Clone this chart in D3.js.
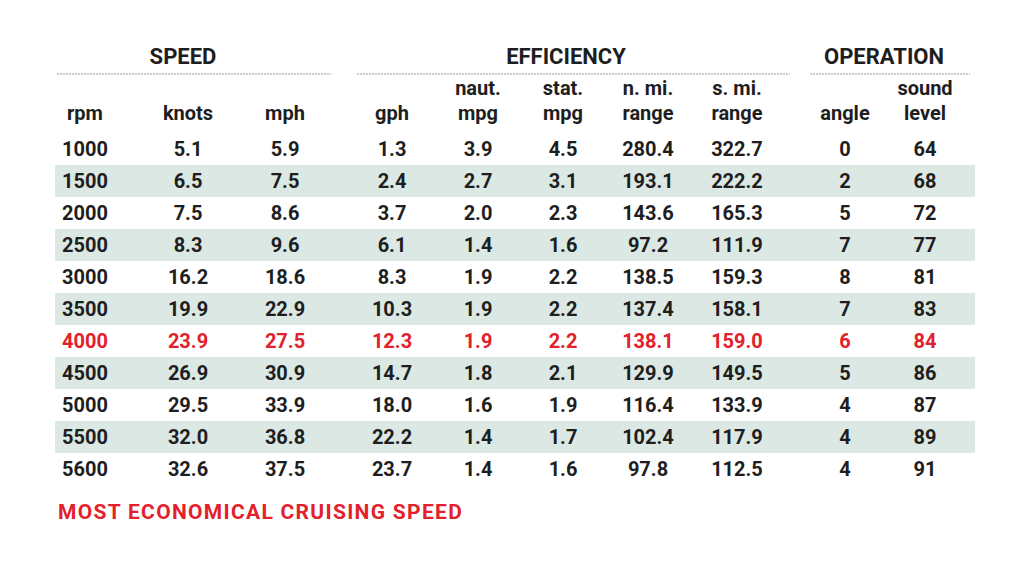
<!DOCTYPE html>
<html>
  <body style="margin:0;background:#fff">
    <script src="https://d3js.org/d3.v7.min.js"></script>
    <script>
      const width = 1024, height = 588;
      const columns = ['rpm', 'knots', 'mph', 'gph', 'naut. mpg', 'stat. mpg', 'n. mi. range', 's. mi. range', 'angle', 'sound level'];
      const colX = [85, 188, 285, 392, 478, 563, 648, 737, 845, 925];
      const groups = ['SPEED', 'EFFICIENCY', 'OPERATION'];
      const groupX = [183, 566, 884];
      const groupSpan = [[57, 331], [357, 790], [810, 970]];
      const rpm = ['1000', '1500', '2000', '2500', '3000', '3500', '4000', '4500', '5000', '5500', '5600'];
      const knots = ['5.1', '6.5', '7.5', '8.3', '16.2', '19.9', '23.9', '26.9', '29.5', '32.0', '32.6'];
      const mph = ['5.9', '7.5', '8.6', '9.6', '18.6', '22.9', '27.5', '30.9', '33.9', '36.8', '37.5'];
      const gph = ['1.3', '2.4', '3.7', '6.1', '8.3', '10.3', '12.3', '14.7', '18.0', '22.2', '23.7'];
      const nautMpg = ['3.9', '2.7', '2.0', '1.4', '1.9', '1.9', '1.9', '1.8', '1.6', '1.4', '1.4'];
      const statMpg = ['4.5', '3.1', '2.3', '1.6', '2.2', '2.2', '2.2', '2.1', '1.9', '1.7', '1.6'];
      const nmiRange = ['280.4', '193.1', '143.6', '97.2', '138.5', '137.4', '138.1', '129.9', '116.4', '102.4', '97.8'];
      const smiRange = ['322.7', '222.2', '165.3', '111.9', '159.3', '158.1', '159.0', '149.5', '133.9', '117.9', '112.5'];
      const angle = ['0', '2', '5', '7', '8', '7', '6', '5', '4', '4', '4'];
      const sound = ['64', '68', '72', '77', '81', '83', '84', '86', '87', '89', '91'];
      const highlightRpm = '4000';
      const note = 'MOST ECONOMICAL CRUISING SPEED';

      const series = [rpm, knots, mph, gph, nautMpg, statMpg, nmiRange, smiRange, angle, sound];
      const rows = rpm.map((r, i) => series.map(s => s[i]));
      const font = 'Roboto, "Liberation Sans", sans-serif';
      const red = '#e3202b', ink = '#1e1e1e';

      const y = d3.scaleBand().domain(d3.range(rows.length)).range([133, 485]);
      const x = d3.scaleOrdinal().domain(columns).range(colX);

      const svg = d3.select('body').append('svg')
        .attr('width', width).attr('height', height)
        .style('font-family', font);

      svg.selectAll('rect.band')
        .data(rows.filter((d, i) => i % 2 === 1))
        .join('rect')
        .attr('x', 55).attr('width', 920)
        .attr('y', d => y(rows.indexOf(d)))
        .attr('height', y.bandwidth())
        .attr('fill', '#dbe8e4');

      svg.selectAll('text.group')
        .data(groups)
        .join('text')
        .attr('x', (d, i) => groupX[i])
        .attr('y', 64)
        .attr('text-anchor', 'middle')
        .attr('font-size', 22).attr('font-weight', 700).attr('fill', ink)
        .text(d => d);

      svg.selectAll('line.group')
        .data(groupSpan)
        .join('line')
        .attr('x1', d => d[0]).attr('x2', d => d[1])
        .attr('y1', 74).attr('y2', 74)
        .attr('stroke', '#999').attr('stroke-width', 1.2).attr('stroke-dasharray', '2,1');

      const head = svg.selectAll('text.head')
        .data(columns)
        .join('text')
        .attr('x', d => x(d))
        .attr('text-anchor', 'middle')
        .attr('font-size', 20).attr('font-weight', 700).attr('fill', ink);
      head.each(function (d) {
        const parts = d.split(' ');
        const lines = parts.length > 2 ? [parts.slice(0, 2).join(' '), parts[2]] : parts;
        const t = d3.select(this);
        lines.forEach((l, k) => {
          t.append('tspan').attr('x', x(d))
            .attr('y', 120 - (lines.length - 1 - k) * 25)
            .text(l);
        });
      });

      svg.selectAll('g.row')
        .data(rows)
        .join('g')
        .attr('transform', (d, i) => `translate(0,${y(i) + y.bandwidth() / 2 + 7})`)
        .attr('fill', d => d[0] === highlightRpm ? red : ink)
        .selectAll('text')
        .data(d => d)
        .join('text')
        .attr('x', (d, j) => colX[j])
        .attr('text-anchor', 'middle')
        .attr('font-size', 20).attr('font-weight', 700)
        .text(d => d);

      svg.append('text')
        .attr('x', 58).attr('y', 519)
        .attr('font-size', 21).attr('font-weight', 700).attr('fill', red)
        .attr('letter-spacing', 1.3)
        .text(note);
    </script>
  </body>
</html>
